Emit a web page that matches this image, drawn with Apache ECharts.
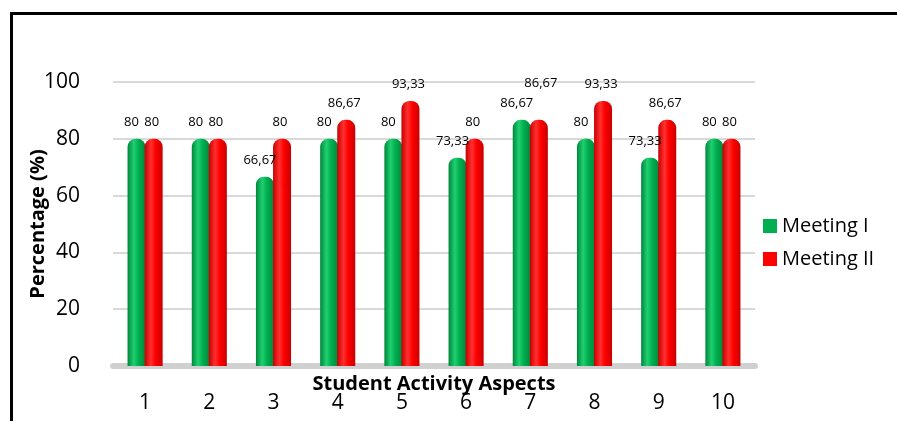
<!DOCTYPE html>
<html>
<head>
<meta charset="utf-8">
<script src="https://cdn.jsdelivr.net/npm/echarts@6/dist/echarts.min.js"></script>
<style>
  html, body { margin: 0; padding: 0; background: #fff; overflow: hidden; }
  #frame {
    position: absolute; left: 10px; top: 12px; width: 900px; height: 420px;
    border-left: 3px solid #000; border-top: 3px solid #000;
  }
  #chart { position: absolute; left: 0; top: 0; width: 897px; height: 421px; }
</style>
</head>
<body>
<div id="frame"></div>
<div id="chart"></div>
<script>
const categories = ['1', '2', '3', '4', '5', '6', '7', '8', '9', '10'];
const meeting1 = [80, 80, 66.67, 80, 80, 73.33, 86.67, 80, 73.33, 80];
const meeting2 = [80, 80, 80, 86.67, 93.33, 80, 86.67, 93.33, 86.67, 80];
const yTicks = [0, 20, 40, 60, 80, 100];

const FONT = '"Open Sans", "Noto Sans", sans-serif';

// horizontal gradient to fake the cylinder shading
function cylinder(dark, mid, light) {
  return new echarts.graphic.LinearGradient(0, 0, 1, 0, [
    { offset: 0, color: dark },
    { offset: 0.35, color: light },
    { offset: 0.6, color: mid },
    { offset: 1, color: dark },
  ]);
}

const fmt = (p) => String(p.value).replace('.', ',');

const chart = echarts.init(document.getElementById('chart'));

chart.setOption({
  backgroundColor: 'transparent',
  textStyle: { fontFamily: FONT },
  legend: {
    orient: 'vertical',
    left: 758,
    top: 211,
    itemWidth: 14,
    itemHeight: 14,
    itemGap: 13,
    icon: 'rect',
    textStyle: { fontSize: 20, color: '#000', fontFamily: FONT },
    data: [
      { name: 'Meeting I', itemStyle: { color: '#00b050' } },
      { name: 'Meeting II', itemStyle: { color: '#ff0000' } },
    ],
  },
  grid: { left: 113, right: 142, top: 82, bottom: 55, outerBoundsMode: 'none', containLabel: false },
  xAxis: {
    type: 'category',
    data: categories,
    name: 'Student Activity Aspects',
    nameLocation: 'middle',
    nameGap: 8,
    nameMoveOverlap: false,
    nameTextStyle: { fontSize: 20, fontWeight: 'bold', color: '#000', fontFamily: FONT, verticalAlign: 'top' },
    axisLine: { show: true, lineStyle: { color: '#d0d0d0', width: 6 } },
    axisTick: { show: false },
    axisLabel: { fontSize: 21, color: '#000', margin: 27, fontFamily: FONT },
  },
  yAxis: {
    type: 'value',
    min: yTicks[0],
    max: yTicks[yTicks.length - 1],
    interval: yTicks[1] - yTicks[0],
    name: 'Percentage (%)',
    nameLocation: 'middle',
    nameGap: 65,
    nameMoveOverlap: false,
    nameTextStyle: { fontSize: 20, fontWeight: 'bold', color: '#000', fontFamily: FONT },
    axisLine: { show: false },
    axisTick: { show: false },
    axisLabel: { fontSize: 21, color: '#000', margin: 33, fontFamily: FONT },
    splitLine: { lineStyle: { color: '#d9d9d9', width: 2 } },
  },
  series: [
    {
      name: 'Meeting I',
      type: 'bar',
      data: meeting1,
      barWidth: 18,
      barGap: '-5%',
      itemStyle: { color: cylinder('#00863c', '#00b050', '#20d070'), borderRadius: [8, 8, 0, 0] },
      label: { show: true, position: 'top', distance: 10, offset: [-5, 0], fontSize: 13, color: '#000', formatter: fmt },
    },
    {
      name: 'Meeting II',
      type: 'bar',
      data: meeting2.map((v, i) => (i === 6 ? { value: v, label: { offset: [2, -20] } } : v)),
      barWidth: 18,
      itemStyle: { color: cylinder('#c80000', '#ff0000', '#ff3030'), borderRadius: [8, 8, 0, 0] },
      label: { show: true, position: 'top', distance: 10, offset: [-2, 0], fontSize: 13, color: '#000', formatter: fmt },
    },
  ],
});
</script>
</body>
</html>
